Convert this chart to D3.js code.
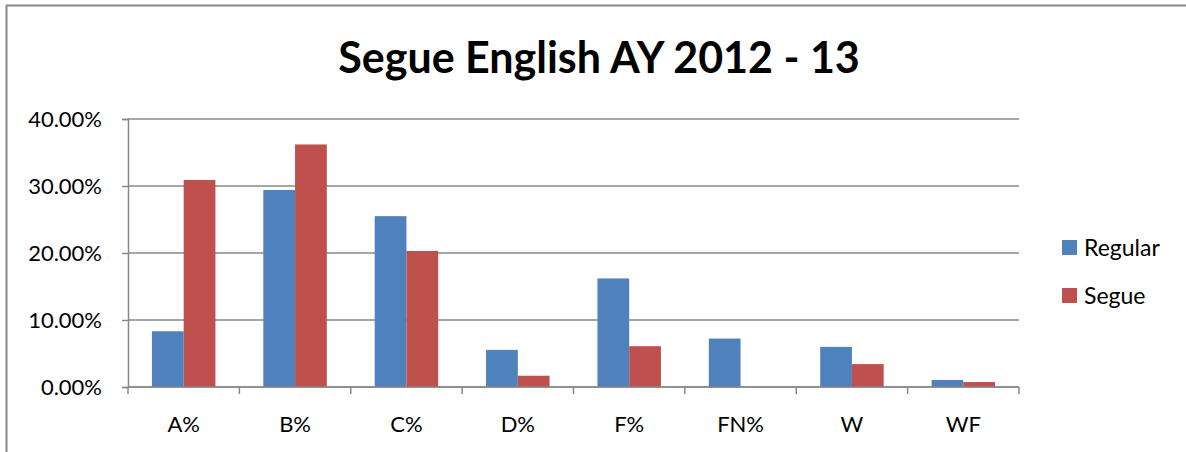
<!DOCTYPE html>
<html>
<head>
<meta charset="utf-8">
<script src="https://cdn.jsdelivr.net/npm/d3@7"></script>
<style>
  body { margin: 0; background: #fff; }
  text { font-family: Lato, 'Open Sans', sans-serif; fill: #000; }
</style>
</head>
<body>
<div id="chart"></div>
<script>
const categories = ['A%', 'B%', 'C%', 'D%', 'F%', 'FN%', 'W', 'WF']
const seriesNames = ['Regular', 'Segue']
const regular = [0.0832, 0.294, 0.255, 0.0554, 0.162, 0.0723, 0.0599, 0.0104]
const segue = [0.309, 0.362, 0.203, 0.0168, 0.0609, 0, 0.0342, 0.0074]
const yTicks = [0, 0.1, 0.2, 0.3, 0.4]
const colors = ['#4f81bd', '#c0504d']

const W = 1186
const H = 452
const margin = { top: 119, right: 167, bottom: 65, left: 128 }
const width = W - margin.left - margin.right
const height = H - margin.top - margin.bottom

const rows = categories.map((c, i) => ({ cat: c, values: [regular[i], segue[i]] }))

const root = d3.select('#chart')
  .append('svg')
  .attr('width', W)
  .attr('height', H)

// outer chart border
root.append('rect')
  .attr('x', 6.5)
  .attr('y', 5.5)
  .attr('width', W + 10)
  .attr('height', H + 10)
  .attr('fill', 'none')
  .attr('stroke', '#888')
  .attr('stroke-width', 2)

root.append('text')
  .attr('x', 599)
  .attr('y', 73)
  .attr('text-anchor', 'middle')
  .attr('font-size', 43)
  .attr('font-weight', 'bold')
  .text('Segue English AY 2012 - 13')

const svg = root.append('g')
  .attr('transform', 'translate(' + margin.left + ',' + margin.top + ')')

const x = d3.scaleBand().domain(categories).range([0, width]).paddingInner(0.43).paddingOuter(0.215)
const xInner = d3.scaleBand().domain(seriesNames).range([0, x.bandwidth()])
const y = d3.scaleLinear().domain([0, 0.4]).range([height, 0])

// gridlines
svg.selectAll('.grid')
  .data(yTicks)
  .enter()
  .append('line')
  .attr('class', 'grid')
  .attr('x1', 0)
  .attr('x2', width)
  .attr('y1', d => y(d))
  .attr('y2', d => y(d))
  .attr('stroke', '#888')
  .attr('stroke-width', 1.5)

const groups = svg.selectAll('.group')
  .data(rows)
  .enter()
  .append('g')
  .attr('transform', d => 'translate(' + x(d.cat) + ',0)')

groups.selectAll('rect')
  .data(d => d.values.map((v, i) => ({ name: seriesNames[i], value: v, i: i })))
  .enter()
  .append('rect')
  .attr('x', d => xInner(d.name))
  .attr('y', d => y(d.value))
  .attr('width', xInner.bandwidth())
  .attr('height', d => height - y(d.value))
  .attr('fill', d => colors[d.i])

const yAxis = d3.axisLeft(y)
  .tickValues(yTicks)
  .tickSize(6)
  .tickPadding(20)
  .tickFormat(d => (d * 100).toFixed(2) + '%')

const yG = svg.append('g').call(yAxis)
yG.selectAll('line').attr('stroke', '#888').attr('stroke-width', 1.5)
yG.select('.domain').attr('stroke', '#888').attr('stroke-width', 1.5)
yG.selectAll('text').attr('font-size', 22).style('font-family', 'Lato, sans-serif')

// x axis: ticks at category boundaries
const step = x.step()
const xG = svg.append('g').attr('transform', 'translate(0,' + height + ')')
xG.append('line')
  .attr('x1', 0).attr('x2', width)
  .attr('stroke', '#888').attr('stroke-width', 1.5)
xG.selectAll('.tick')
  .data(d3.range(categories.length + 1))
  .enter()
  .append('line')
  .attr('x1', d => d * step)
  .attr('x2', d => d * step)
  .attr('y1', 0)
  .attr('y2', 7)
  .attr('stroke', '#888')
  .attr('stroke-width', 1.5)
xG.selectAll('.lbl')
  .data(categories)
  .enter()
  .append('text')
  .attr('x', d => x(d) + x.bandwidth() / 2)
  .attr('y', 45)
  .attr('text-anchor', 'middle')
  .attr('font-size', 22)
  .text(d => d)

// legend
const legend = root.append('g').attr('transform', 'translate(1062,240)')
const items = legend.selectAll('g')
  .data(seriesNames)
  .enter()
  .append('g')
  .attr('transform', (d, i) => 'translate(0,' + i * 48 + ')')
items.append('rect')
  .attr('width', 15)
  .attr('height', 15)
  .attr('fill', (d, i) => colors[i])
items.append('text')
  .attr('x', 22)
  .attr('y', 16)
  .attr('font-size', 23)
  .text(d => d)
</script>
</body>
</html>
